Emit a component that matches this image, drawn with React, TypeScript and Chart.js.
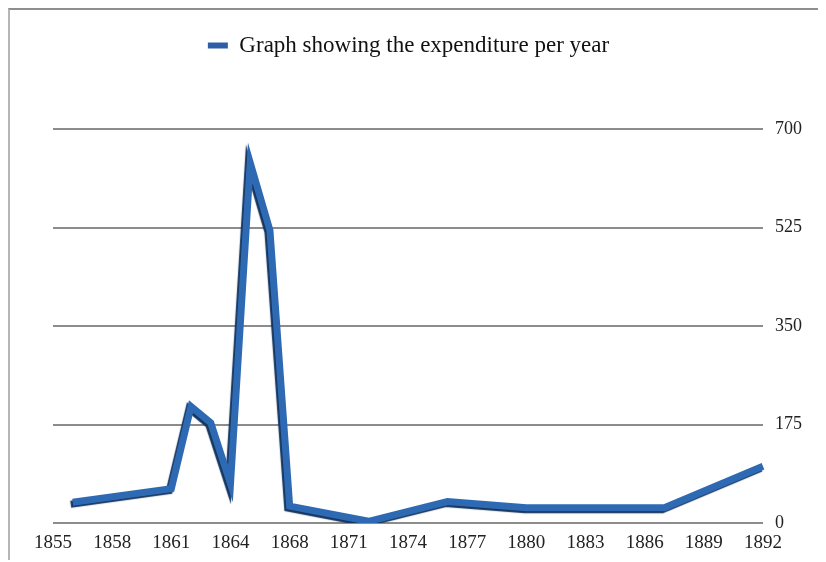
import React, { useEffect, useRef } from "react";
import { Chart, registerables } from "chart.js";

Chart.register(...registerables);

const years: string[] = [
  "1855", "1856", "1857", "1858", "1859", "1860", "1861", "1862", "1863", "1864",
  "1866", "1867", "1868", "1869", "1870", "1871", "1872", "1873", "1874", "1875",
  "1876", "1877", "1878", "1879", "1880", "1881", "1882", "1883", "1884", "1885",
  "1886", "1887", "1888", "1889", "1890", "1891", "1892",
];

const expenditure: (number | null)[] = [
  null, 37, null, null, null, null, 61, 207, 178, 70,
  640, 520, 30, null, null, null, 3, null, null, null,
  38, null, null, null, 27, null, null, null, null, null,
  null, 27, null, null, null, null, 101,
];

const yTicks: number[] = [0, 175, 350, 525, 700];
const seriesLabel = "Graph showing the expenditure per year";

const shadowPlugin = {
  id: "lineShadow",
  beforeDatasetsDraw(chart: any) {
    const ctx = chart.ctx;
    ctx.save();
    ctx.shadowColor = "#16365f";
    ctx.shadowOffsetX = -2;
    ctx.shadowOffsetY = 2;
    ctx.shadowBlur = 1;
  },
  afterDatasetsDraw(chart: any) {
    chart.ctx.restore();
  },
};

export default function App() {
  const ref = useRef<HTMLCanvasElement | null>(null);

  useEffect(() => {
    if (!ref.current) return;
    const font = "'Liberation Serif', 'Times New Roman', serif";
    const chart = new Chart(ref.current, {
      type: "line",
      data: {
        labels: years,
        datasets: [
          {
            label: seriesLabel,
            data: expenditure,
            borderColor: "#2e6ab3",
            backgroundColor: "#2e6ab3",
            borderWidth: 7,
            pointRadius: 0,
            tension: 0,
            spanGaps: true,
            borderJoinStyle: "miter",
            yAxisID: "y",
          },
        ],
      },
      options: {
        responsive: false,
        animation: false,
        layout: { padding: { top: 0, left: 0, right: 0, bottom: 0 } },
        plugins: {
          legend: {
            display: true,
            position: "top",
            weight: 3000,
            labels: {
              boxWidth: 20,
              boxHeight: 6,
              padding: 24,
              color: "#111",
              font: { family: font, size: 23 },
              generateLabels: (c: any) =>
                Chart.defaults.plugins.legend.labels
                  .generateLabels(c)
                  .map((l: any) => ({ ...l, lineWidth: 0, fillStyle: "#2e5fa6" })),
            },
          },
          title: {
            display: true,
            text: "",
            weight: 2000,
            font: { size: 1, lineHeight: 1 },
            padding: { top: 0, bottom: 61 },
          },
          tooltip: { enabled: false },
        },
        scales: {
          x: {
            grid: { display: false },
            border: { display: false },
            afterFit: (s: any) => {
              s.height = 37;
            },
            ticks: {
              autoSkip: false,
              maxRotation: 0,
              padding: 1,
              color: "#222",
              font: { family: font, size: 19 },
              callback: (_v: any, i: number) => (i % 3 === 0 ? years[i] : ""),
            },
          },
          yLeft: {
            position: "left",
            display: true,
            grid: { display: false },
            border: { display: false },
            ticks: { display: false },
            afterFit: (s: any) => {
              s.width = 43;
            },
          },
          y: {
            position: "right",
            min: 0,
            max: 700,
            afterBuildTicks: (s: any) => {
              s.ticks = yTicks.map((v) => ({ value: v }));
            },
            afterFit: (s: any) => {
              s.width = 44;
            },
            grid: { color: "#8c8c8c", lineWidth: 2, drawTicks: false },
            border: { display: false },
            ticks: {
              padding: 12,
              color: "#222",
              font: { family: font, size: 18 },
            },
          },
        },
      },
      plugins: [shadowPlugin],
    });
    return () => chart.destroy();
  }, []);

  return (
    <div
      style={{
        borderTop: "2px solid #8e8e8e",
        borderLeft: "2px solid #b5b5b5",
        width: 816,
        height: 552,
        boxSizing: "border-box",
        background: "#fff",
      }}
    >
      <canvas ref={ref} width={797} height={550} style={{ display: "block" }} />
    </div>
  );
}
